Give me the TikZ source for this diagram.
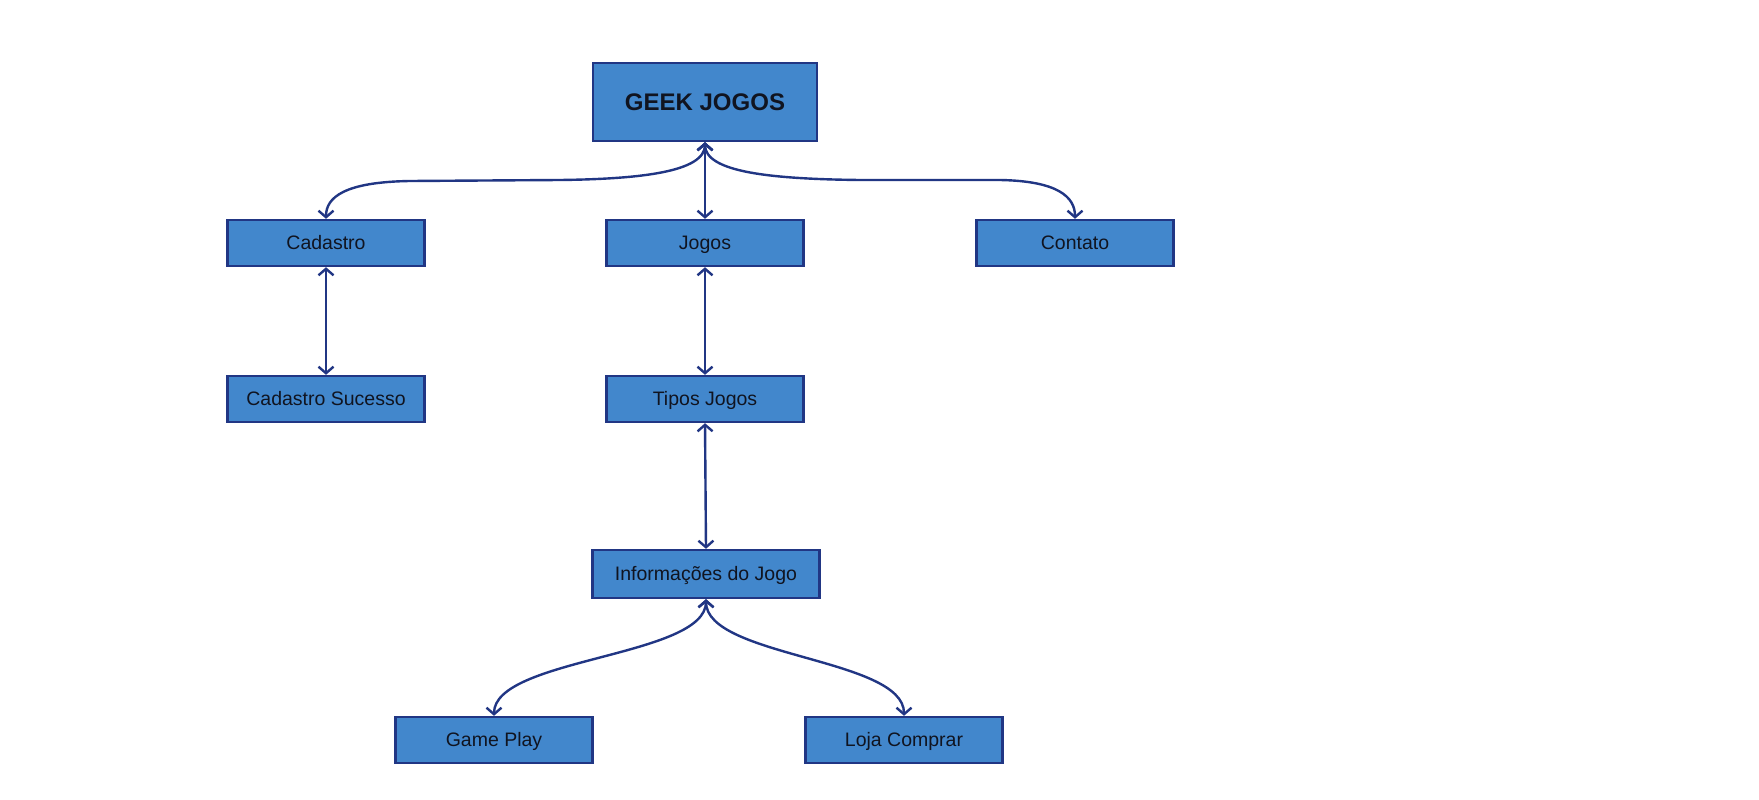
\documentclass[tikz,border=0pt]{standalone}
\usepackage{fontspec}
\setmainfont{Liberation Sans}
\usetikzlibrary{arrows.meta}
\definecolor{boxfill}{RGB}{66,135,204}
\definecolor{boxline}{RGB}{33,54,132}
\definecolor{txt}{RGB}{16,20,32}
\begin{document}
\begin{tikzpicture}[x=1pt,y=-1pt,
  box/.style={draw=boxline, fill=boxfill, line width=2.4pt, minimum width=197pt, minimum height=46pt, inner sep=0pt, text=txt, text height=13.8pt, text depth=0pt, font=\fontsize{19.5}{22}\selectfont},
  link/.style={draw=boxline, line width=2.4pt, {Straight Barb[length=6.5pt,width=15pt]}-{Straight Barb[length=6.5pt,width=15pt]}}]
\useasboundingbox[fill=white] (0,0) rectangle (1759,800);

\node[box, minimum width=224pt, minimum height=78pt, text height=17pt, font=\fontsize{24}{28}\selectfont\bfseries] (geek) at (705,102) {GEEK JOGOS};
\node[box] (cad) at (326,243) {Cadastro};
\node[box] (jog) at (705,243) {Jogos};
\node[box] (con) at (1075,243) {Contato};
\node[box] (cads) at (326,399) {Cadastro Sucesso};
\node[box] (tip) at (705,399) {Tipos Jogos};
\node[box, minimum width=227pt, minimum height=48pt] (inf) at (706,574) {Informações do Jogo};
\node[box] (gp) at (494,740) {Game Play};
\node[box] (loja) at (904,740) {Loja Comprar};

\coordinate (lA) at (560,180);
\coordinate (lB) at (410,181);
\coordinate (rA) at (860,180);
\coordinate (rB) at (1000,180);

\draw[link] (geek.south) -- (jog.north);
\draw[link] (geek.south) .. controls (705,172) and (640,179) .. (lA) -- (lB) .. controls (345,182) and (326,197) .. (cad.north);
\draw[link] (geek.south) .. controls (705,172) and (770,179) .. (rA) -- (rB) .. controls (1058,181) and (1075,197) .. (con.north);
\draw[link] (cad.south) -- (cads.north);
\draw[link] (jog.south) -- (tip.north);
\draw[link] (tip.south) -- (inf.north);
\draw[link] (inf.south) .. controls +(0,58) and +(0,-58) .. (gp.north);
\draw[link] (inf.south) .. controls +(0,58) and +(0,-58) .. (loja.north);
\end{tikzpicture}
\end{document}
